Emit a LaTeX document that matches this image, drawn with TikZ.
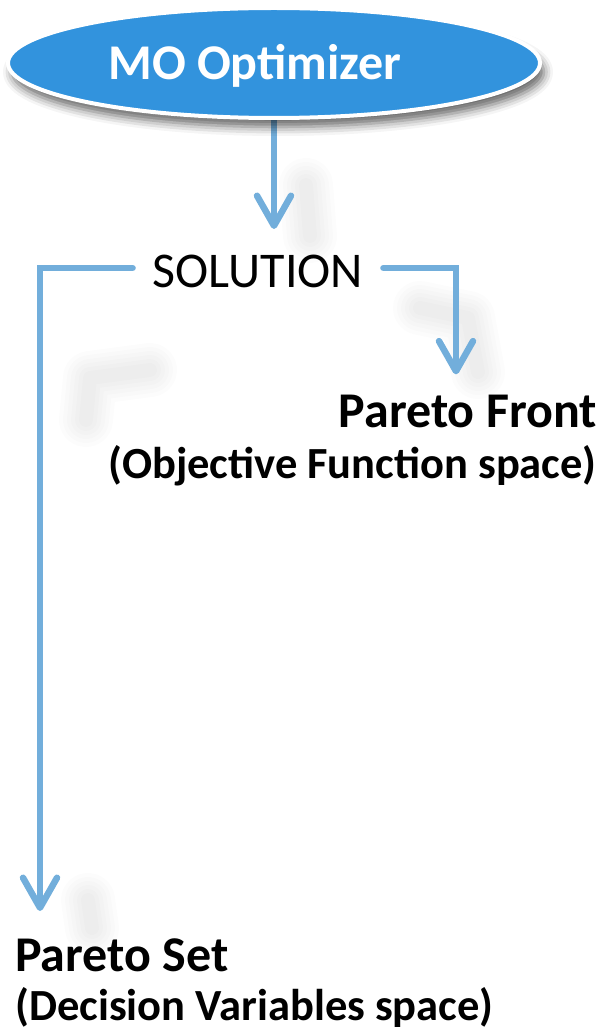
\documentclass[tikz,border=0pt]{standalone}
\usepackage{fontspec}
\setmainfont{Carlito}
\usetikzlibrary{arrows.meta,shadows.blur,shapes.geometric,calc}
\pgfdeclarelayer{back}
\pgfdeclarelayer{haze}
\pgfsetlayers{haze,back,main}
\definecolor{optblue}{HTML}{3293DD}
\definecolor{linkblue}{HTML}{72AEDB}
\begin{document}
\begin{tikzpicture}[x=1pt,y=-1pt,
  link/.style={draw=linkblue,line width=6.5pt,line cap=round,line join=miter,
    -{Straight Barb[length=30pt,width=34pt,round]}},
  softline/.style={draw=black,line cap=round,line join=round,line width=#1,opacity=0.011},
  title/.style={font=\fontsize{50}{52}\selectfont\bfseries,inner sep=0pt},
  subtitle/.style={font=\fontsize{44.5}{46}\selectfont\bfseries,inner sep=0pt}]
\useasboundingbox (0,0) rectangle (601,1032);

% optimizer ellipse
\node[ellipse,fill=optblue,draw=white,line width=4pt,
  minimum width=532pt,minimum height=110pt,
  blur shadow={shadow xshift=4pt,shadow yshift=-9pt,shadow blur radius=9pt,shadow opacity=60}]
  (opt) at (274,63) {};
\node[anchor=base,text=white,font=\fontsize{50}{52}\selectfont\bfseries,inner sep=0pt]
  (optlabel) at (255,80) {MO Optimizer};

% solution
\node[anchor=base,font=\fontsize{50}{52}\selectfont,inner ysep=0pt,inner xsep=20pt]
  (sol) at (258,287) {SOLUTION};

% results
\node[title,anchor=base east] (front) at (597,427) {Pareto Front};
\node[subtitle,anchor=base east] (frontsub) at (597,478) {(Objective Function space)};
\node[title,anchor=base west] (set) at (15,971) {Pareto Set};
\node[subtitle,anchor=base west] (setsub) at (15,1020) {(Decision Variables space)};

% connectors, under the ellipse shadow
\begin{pgfonlayer}{back}
\draw[link] (opt.south) -- ($(opt.south)+(0,109)$);
\draw[link] ($(sol.west)+(0,-3)$) -| ([xshift=25pt,yshift=27pt]set.north west);
\draw[link] ($(sol.east)+(0,-3)$) -| ([xshift=-141pt,yshift=20pt]front.north east);
\end{pgfonlayer}

% soft cast shadows of the connectors
\begin{pgfonlayer}{haze}
\foreach \w in {54,46,38,30,22,14}{
  \draw[softline=\w pt] (306,185) -- (310,236);
  \draw[softline=\w pt] (420,308) -- (468,318) -- (478,372);
  \draw[softline=\w pt] (150,370) -- (90,378) -- (86,420);
  \draw[softline=\w pt] (88,900) -- (92,928);
}
\end{pgfonlayer}
\end{tikzpicture}
\end{document}
